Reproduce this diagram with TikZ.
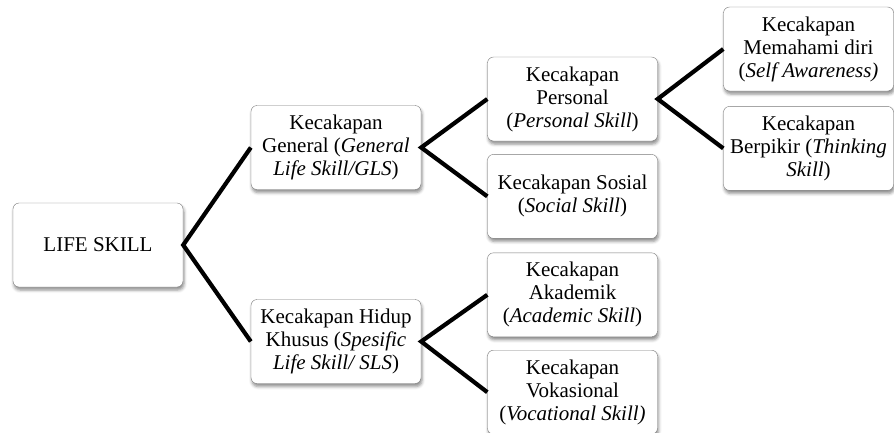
\documentclass[tikz,border=0pt]{standalone}
\usepackage{fontspec}
\setmainfont{Liberation Serif}
\usetikzlibrary{positioning,shadows.blur}
\definecolor{LSline}{HTML}{7A7A7A}
\definecolor{LSink}{HTML}{000000}
\tikzset{
  skillbox/.style={rounded corners=6pt, draw=LSline, fill=white, align=center, minimum width=170pt, minimum height=84pt, inner sep=3pt, text=LSink, font=\fontsize{21}{23}\selectfont, blur shadow={shadow xshift=1pt, shadow yshift=-3pt, shadow blur radius=3pt, shadow opacity=45}},
  branch/.style={line width=4.2pt, draw=LSink, line join=miter}
}

\begin{document}
\begin{tikzpicture}[x=1pt, y=-1pt, node distance=13pt]
\useasboundingbox (0,0) rectangle (894,432);
\node[skillbox] (life) at (98,245) {LIFE SKILL};
\node[skillbox] (gen) at (336,147.5) {Kecakapan\\General (\textit{General}\\\textit{Life Skill/GLS})};
\node[skillbox] (khusus) at (336,341.5) {Kecakapan Hidup\\Khusus (\textit{Spesific}\\\textit{Life Skill/ SLS})};
\node[skillbox] (personal) at (572.5,99) {Kecakapan\\Personal\\(\textit{Personal Skill})};
\node[skillbox, below=of personal] (sosial) {Kecakapan Sosial\\(\textit{Social Skill})};
\node[skillbox, below=14pt of sosial] (akademik) {Kecakapan\\Akademik\\(\textit{Academic Skill})};
\node[skillbox, below=of akademik] (vokasi) {Kecakapan\\Vokasional\\(\textit{Vocational Skill)}};
\node[skillbox] (self) at (808.5,49) {Kecakapan\\Memahami diri\\(\textit{Self Awareness)}};
\node[skillbox, below=15pt of self] (think) {Kecakapan\\Berpikir (\textit{Thinking}\\\textit{Skill})};
% branches
\draw[branch] (gen.west) -- (life.east) -- (khusus.west);
\draw[branch] (personal.west) -- (gen.east) -- (sosial.west);
\draw[branch] (akademik.west) -- (khusus.east) -- (vokasi.west);
\draw[branch] (self.west) -- (personal.east) -- (think.west);
\end{tikzpicture}
\end{document}
